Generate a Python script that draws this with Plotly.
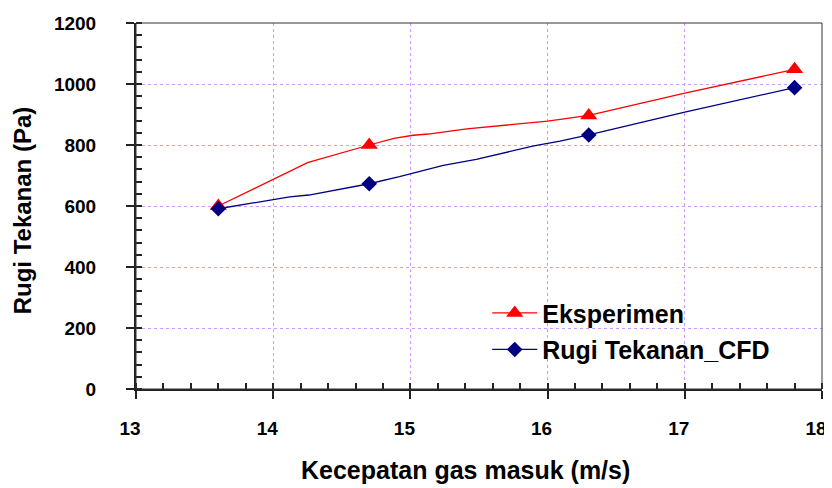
import plotly.graph_objects as go

# Measured points (with markers)
x_meas = [13.6, 14.7, 16.3, 17.8]
eksperimen = [600, 800, 897, 1048]
cfd = [591, 673, 833, 988]

# Smoothed curve paths (as drawn in the original chart)
eks_path_x = [13.6, 14.25, 14.7, 14.88, 15.02, 15.13, 15.41, 15.9, 16.0, 16.3, 17.0, 17.8]
eks_path_y = [600, 742, 800, 822, 832, 836, 853, 873, 878, 897, 970, 1048]
cfd_path_x = [13.6, 14.12, 14.26, 14.7, 14.92, 15.24, 15.48, 15.9, 16.09, 16.3, 17.0, 17.8]
cfd_path_y = [591, 630, 636, 673, 696, 733, 753, 797, 813, 833, 908, 988]

x_ticks = [13, 14, 15, 16, 17, 18]
y_ticks = [0, 200, 400, 600, 800, 1000, 1200]

RED = "#ff0000"
NAVY = "#000080"
FONT = "Liberation Sans, Arial, sans-serif"

fig = go.Figure()

fig.add_trace(go.Scatter(x=eks_path_x, y=eks_path_y, mode="lines",
                         line=dict(color=RED, width=1.3), showlegend=False, hoverinfo="skip"))
fig.add_trace(go.Scatter(x=cfd_path_x, y=cfd_path_y, mode="lines",
                         line=dict(color=NAVY, width=1.3), showlegend=False, hoverinfo="skip"))
fig.add_trace(go.Scatter(x=x_meas, y=eksperimen, mode="markers",
                         marker=dict(symbol="triangle-up", size=15, color=RED),
                         showlegend=False))
fig.add_trace(go.Scatter(x=x_meas, y=cfd, mode="markers",
                         marker=dict(symbol="diamond", size=12, color=NAVY),
                         showlegend=False))
# Legend entries
fig.add_trace(go.Scatter(x=[None], y=[None], mode="lines+markers", name="Eksperimen",
                         line=dict(color=RED, width=1.3),
                         marker=dict(symbol="triangle-up", size=15, color=RED),
                         legendgroup="a"))
fig.add_trace(go.Scatter(x=[None], y=[None], mode="lines+markers", name="Rugi Tekanan_CFD",
                         line=dict(color=NAVY, width=1.3),
                         marker=dict(symbol="diamond", size=12, color=NAVY),
                         legendgroup="b"))

axis_common = dict(
    showgrid=True, gridcolor="#cc99ff", gridwidth=1, griddash="3px,3px",
    showline=True, linecolor="#222222", linewidth=2,
    ticks="outside", ticklen=8, tickcolor="#222222", tickwidth=1.5,
    tickfont=dict(family=FONT, size=19, color="black", weight="bold"),
    zeroline=False, automargin=False, ticklabeloverflow="allow",
)

fig.update_xaxes(range=[13, 18], tickvals=x_ticks, ticktext=[str(v) for v in x_ticks],
                 ticklabelstandoff=13, ticklabelshift=-6,
                 minor=dict(ticks="inside", ticklen=6, dtick=0.2, tick0=13,
                            tickcolor="#222222", showgrid=False),
                 **axis_common)
fig.update_yaxes(range=[0, 1200], tickvals=y_ticks, ticktext=[str(v) for v in y_ticks],
                 ticklabelstandoff=26,
                 minor=dict(ticks="inside", ticklen=6, dtick=40, tick0=0,
                            tickcolor="#222222", showgrid=False),
                 **axis_common)

fig.add_shape(type="rect", xref="paper", yref="paper", x0=0, x1=1, y0=0, y1=1,
              line=dict(color="#333333", width=1), layer="above")

fig.add_annotation(text="Kecepatan gas masuk (m/s)", xref="paper", yref="paper",
                   x=0.4796, y=-0.221, showarrow=False, xanchor="center", yanchor="middle",
                   font=dict(family=FONT, size=25, color="black", weight="bold"))
fig.add_annotation(text="Rugi Tekanan (Pa)", xref="paper", yref="paper",
                   x=-0.165, y=0.4877, showarrow=False, textangle=-90,
                   xanchor="center", yanchor="middle",
                   font=dict(family=FONT, size=24, color="black", weight="bold"))

# page body has an 8px margin, so the figure is sized/offset to compensate
fig.update_layout(
    width=824, height=480,
    margin=dict(l=128, r=10, t=15, b=99),
    paper_bgcolor="white", plot_bgcolor="white",
    showlegend=True,
    legend=dict(x=0.512, y=0.27, xanchor="left", yanchor="top",
                bgcolor="rgba(0,0,0,0)", borderwidth=0, tracegroupgap=1,
                itemwidth=45,
                font=dict(family=FONT, size=25, color="black", weight="bold")),
)

fig.write_html("out.html")
